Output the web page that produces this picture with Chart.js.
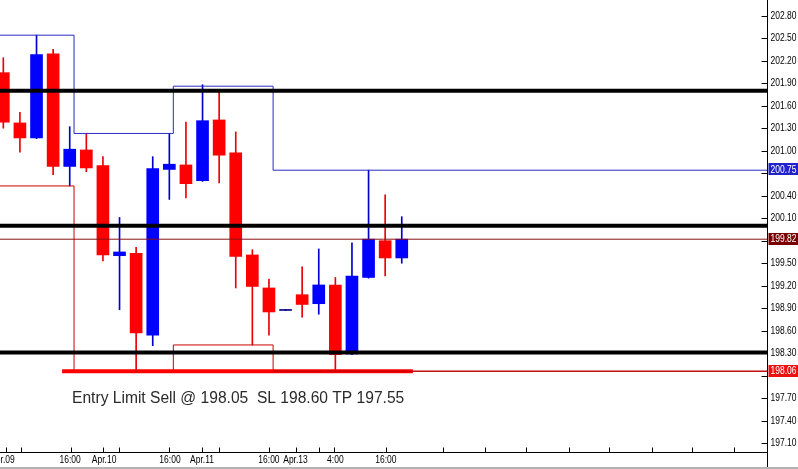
<!DOCTYPE html>
<html>
<head>
<meta charset="utf-8">
<script src="https://cdn.jsdelivr.net/npm/chart.js@4"></script>
<style>
  html, body { margin: 0; padding: 0; background: #fff; }
  #wrap { width: 798px; height: 469px; position: relative; }
</style>
</head>
<body>
<div id="wrap"><canvas id="chart"></canvas></div>
<script>
// H4 candles (index 0 = first candle on the left)
const candleOpen  = [202.04, 201.37, 201.17, 202.29, 200.79, 201.01, 200.80, 199.60, 199.63, 198.54, 200.75, 200.81, 200.60,
                     201.41, 200.97, 199.61, 199.17, 198.87, 199.08, 198.96, 199.21, 198.29, 199.31, 199.80, 199.57];
const candleHigh  = [202.24, 201.51, 202.54, 202.35, 201.32, 201.23, 200.92, 200.11, 199.71, 200.92, 201.23, 201.38, 201.88,
                     201.79, 201.25, 199.68, 199.29, 198.88, 199.45, 199.69, 199.31, 199.77, 200.74, 200.41, 200.12];
const candleLow   = [201.30, 200.98, 201.16, 200.68, 200.53, 200.72, 199.53, 198.88, 198.05, 198.40, 200.35, 200.37, 200.59,
                     200.57, 199.17, 198.41, 198.54, 198.87, 198.78, 198.82, 198.05, 198.28, 199.30, 199.33, 199.50];
const candleClose = [201.38, 201.17, 202.28, 200.79, 201.02, 200.77, 199.61, 199.65, 198.57, 200.76, 200.82, 200.56, 201.40,
                     200.94, 199.59, 199.19, 198.85, 198.88, 198.95, 199.21, 198.28, 199.33, 199.82, 199.57, 199.82];

// horizontal levels
const blackLevels = [201.80, 200.00, 198.31];
const bidLevel = 199.82;
const entryLevel = 198.06;
const entryFrom = 3.54, entryTo = 24.67;   // thick entry segment, in candle index

// stepped channel (upper blue, lower red)
const stepX     = [-0.2, 4.26, 10.24, 16.25, 46];
const upperStep = [202.54, 201.23, 201.86, 200.74, 200.74];
const lowerStep = [200.53, 198.05, 198.41, 198.06, 198.06];

// axis texts
const priceTicks = ['202.80', '202.50', '202.20', '201.90', '201.60', '201.30', '201.00', '200.70', '200.40', '200.10',
                    '199.80', '199.50', '199.20', '198.90', '198.60', '198.30', '198.00', '197.70', '197.40', '197.10'];
const timeTickPos = [0.16, 1.07, 4.08, 6.0, 6.97, 9.98, 11.97, 13.0, 16.0, 17.63, 19.0, 19.92, 23.05,
                     26.5, 29.0, 31.5, 34.1, 36.5, 39.1, 41.5, 44.0];
const timeLabelPos = [-0.05, 4.02, 6.07, 10.04, 11.97, 16.0, 17.6, 20.0, 23.04];
const timeLabels   = ['Apr.09', '16:00', 'Apr.10', '16:00', 'Apr.11', '16:00', 'Apr.13', '4:00', '16:00'];

const tagValues = ['200.75', '199.82', '198.06'];
const tagColors = ['#2222cc', '#7a0000', '#ee1111'];

const noteText = 'Entry Limit Sell @ 198.05  SL 198.60 TP 197.55';
const notePos = { x: 4.14, y: 197.70 };

const X_MIN = -0.2, X_MAX = 46.0;
const Y_MIN = 196.983, Y_MAX = 203.009;

const idx = candleOpen.map((_, i) => i);
const isDoji = i => Math.abs(candleClose[i] - candleOpen[i]) < 0.02;
const bodyColor = i => isDoji(i) ? '#000080' : (candleClose[i] >= candleOpen[i] ? '#0000ff' : '#ff0000');
const wickColor = i => isDoji(i) ? '#000080' : (candleClose[i] >= candleOpen[i] ? '#0000cc' : '#ee0000');

function hLine(y, color, width, from = X_MIN, to = X_MAX) {
    return {
        type: 'line',
        data: [{ x: from, y }, { x: to, y }],
        borderColor: color,
        borderWidth: width,
        pointRadius: 0,
        order: 0,
    };
}

function stepLine(ys, color) {
    return {
        type: 'line',
        data: stepX.map((x, i) => ({ x, y: ys[i] })),
        borderColor: color,
        borderWidth: 1,
        pointRadius: 0,
        stepped: true,
        order: 0,
    };
}

function drawNarrow(ctx, text, x, y, align) {
    ctx.save();
    ctx.translate(x, y);
    ctx.scale(0.85, 1);
    ctx.textAlign = align;
    ctx.textBaseline = 'middle';
    ctx.fillText(text, 0, 0);
    ctx.restore();
}

// axes, tags and note drawn on top, positioned from the chart scales
const overlay = {
    id: 'overlay',
    afterDraw(chart) {
        const ctx = chart.ctx;
        const xs = chart.scales.x, ys = chart.scales.y;
        const area = chart.chartArea;
        const axisX = Math.round(area.right) + 0.5;
        const axisY = Math.round(area.bottom) + 0.5;
        const tagPix = tagValues.map(t => ys.getPixelForValue(parseFloat(t)));

        ctx.save();
        ctx.strokeStyle = '#000';
        ctx.lineWidth = 1;
        ctx.beginPath();
        ctx.moveTo(0, axisY); ctx.lineTo(axisX, axisY);
        ctx.moveTo(axisX, 0); ctx.lineTo(axisX, chart.height);
        ctx.stroke();

        ctx.font = '10px "Liberation Sans", Arial, sans-serif';
        ctx.fillStyle = '#000';

        // price ticks (labels covered by a tag are skipped)
        priceTicks.forEach(t => {
            const y = Math.round(ys.getPixelForValue(parseFloat(t))) + 0.5;
            ctx.beginPath();
            ctx.moveTo(axisX - 6, y); ctx.lineTo(axisX, y);
            ctx.stroke();
            if (tagPix.every(p => Math.abs(p - y) > 9)) {
                drawNarrow(ctx, t, axisX + 3, y, 'left');
            }
        });

        // time ticks
        timeTickPos.forEach(v => {
            const x = Math.round(xs.getPixelForValue(v)) + 0.5;
            ctx.beginPath();
            ctx.moveTo(x, axisY - 5); ctx.lineTo(x, axisY);
            ctx.stroke();
        });
        timeLabels.forEach((t, i) => {
            drawNarrow(ctx, t, xs.getPixelForValue(timeLabelPos[i]), axisY + 8, 'center');
        });

        // price tags
        tagValues.forEach((t, i) => {
            const y = tagPix[i];
            ctx.fillStyle = tagColors[i];
            ctx.fillRect(axisX + 1, Math.round(y) - 6, chart.width - axisX, 12);
            ctx.fillStyle = '#fff';
            drawNarrow(ctx, t, axisX + 3, y + 0.5, 'left');
        });

        // order note
        ctx.fillStyle = '#2a2a2a';
        ctx.font = '15.6px "Liberation Sans", Arial, sans-serif';
        ctx.textAlign = 'left';
        ctx.textBaseline = 'middle';
        ctx.fillText(noteText, xs.getPixelForValue(notePos.x), ys.getPixelForValue(notePos.y));

        // bottom frame
        ctx.fillStyle = '#b4b4b4';
        ctx.fillRect(0, chart.height - 2, chart.width, 2);
        ctx.restore();
    }
};

new Chart(document.getElementById('chart'), {
    type: 'bar',
    data: {
        datasets: [
            ...blackLevels.map(v => hLine(v, '#000', 4)),
            hLine(bidLevel, '#8b1010', 1),
            hLine(entryLevel, '#b00000', 1, 16.25, X_MAX),
            hLine(entryLevel, '#ff0000', 4, entryFrom, entryTo),
            stepLine(upperStep, '#2a2ac4'),
            stepLine(lowerStep, '#cc0000'),
            {
                // candle bodies
                data: idx.map(i => ({ x: i, y: [candleOpen[i], candleClose[i]] })),
                backgroundColor: idx.map(bodyColor),
                barThickness: 12,
                minBarLength: 1,
                grouped: false,
                order: 1,
            },
            {
                // wicks
                data: idx.map(i => ({ x: i, y: [candleLow[i], candleHigh[i]] })),
                backgroundColor: idx.map(wickColor),
                barThickness: 1,
                grouped: false,
                order: 2,
            },
        ],
    },
    options: {
        responsive: true,
        maintainAspectRatio: false,
        animation: false,
        events: [],
        layout: { padding: { left: 0, top: 0, right: 31, bottom: 17 } },
        plugins: { legend: { display: false }, tooltip: { enabled: false } },
        scales: {
            x: { type: 'linear', min: X_MIN, max: X_MAX, offset: false, display: false },
            y: { type: 'linear', min: Y_MIN, max: Y_MAX, display: false },
        },
    },
    plugins: [overlay],
});
</script>
</body>
</html>
